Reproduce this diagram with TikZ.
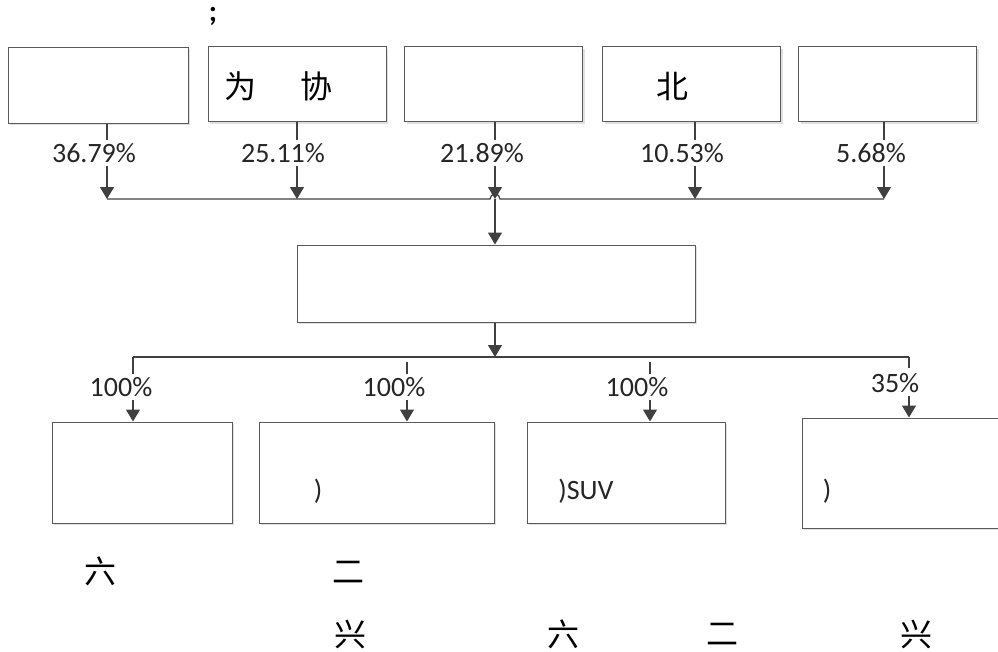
\documentclass[tikz,border=0pt]{standalone}
\usepackage{fontspec}
\setmainfont{Carlito}
\newfontfamily\cjk{Noto Sans CJK SC}
\usetikzlibrary{arrows.meta,shadows}
\definecolor{linegray}{HTML}{404040}
\definecolor{boxgray}{HTML}{5A5A5A}
\tikzset{
	firm/.style={draw=boxgray, line width=1pt, fill=white, inner sep=0pt,
		drop shadow={shadow xshift=2pt, shadow yshift=-2pt, fill=black!12, opacity=1}},
	share/.style={font=\fontsize{28}{30}\selectfont, inner xsep=0pt, inner ysep=3pt, text=black!85},
	hanzi/.style={font=\cjk\fontsize{32}{34}\selectfont, inner sep=0pt},
	tie/.style={draw=linegray, line width=1.2pt},
	stake/.style={tie, -{Triangle[length=12pt,width=14pt]}}
}
\begin{document}
\begin{tikzpicture}[x=1pt,y=-1pt]
		\useasboundingbox (0,0) rectangle (998,651);
		\node[font=\bfseries\fontsize{30}{32}\selectfont, inner sep=0pt] (semi) at (213,16) {;};
		% owners
		\node[firm, minimum width=180, minimum height=76] (t1) at (98,85) {};
		\node[firm, minimum width=178, minimum height=75] (t2) at (297,84) {};
		\node[firm, minimum width=178, minimum height=75] (t3) at (493.5,84) {};
		\node[firm, minimum width=178, minimum height=75] (t4) at (691.5,84) {};
		\node[firm, minimum width=178, minimum height=75] (t5) at (887.5,84) {};
		\node[hanzi] (n2) at (278.5,86) {为\hspace{45pt}协};
		\node[hanzi] (n4) at (672,86) {北};
		% shares
		\node[share] (p1) at (94,153) {36.79\%};
		\node[share] (p2) at (283,153) {25.11\%};
		\node[share] (p3) at (482,153) {21.89\%};
		\node[share] (p4) at (682,153) {10.53\%};
		\node[share] (p5) at (871,153) {5.68\%};
		% upper bus
		\coordinate (j1) at (107,199);
		\coordinate (j2) at (297,199);
		\coordinate (j3) at (495,199);
		\coordinate (j4) at (695,199);
		\coordinate (j5) at (884,199);
		\coordinate (h1) at (490,199);
		\draw[tie] (j1) -- (h1) arc[start angle=180, end angle=0, radius=5pt] -- (j5);
		\foreach \i in {1,...,5}{
			\draw[tie] (t\i.south -| j\i) -- (p\i.north -| j\i);
			\draw[stake] (p\i.south -| j\i) -- (j\i);
		}
		% company
		\node[firm, minimum width=398, minimum height=77] (m) at (496,283.5) {};
		\draw[stake] (j3) -- (m.north -| j3);
		% lower bus
		\coordinate (k0) at (495,357);
		\coordinate (k1) at (133,357);
		\coordinate (k2) at (407,357);
		\coordinate (k3) at (650,357);
		\coordinate (k4) at (909,357);
		\coordinate (g2) at (407,362);
		\coordinate (g3) at (650,362);
		\coordinate (g4) at (909,368);
		\draw[stake] (m.south -| k0) -- (k0);
		\draw[tie] (k1) -- (k4);
		% subsidiaries
		\node[firm, minimum width=180, minimum height=101] (b1) at (142,472.5) {};
		\node[firm, minimum width=235, minimum height=101] (b2) at (376.5,472.5) {};
		\node[firm, minimum width=198, minimum height=101] (b3) at (626,472.5) {};
		\node[firm, minimum width=214, minimum height=110] (b4) at (909,473) {};
		\node[share] (q1) at (121,387) {100\%};
		\node[share] (q2) at (394,387) {100\%};
		\node[share] (q3) at (637,387) {100\%};
		\node[share] (q4) at (895,383) {35\%};
		\draw[tie] (k1) -- (q1.north -| k1);
		\draw[tie] (g2) -- (q2.north -| g2);
		\draw[tie] (g3) -- (q3.north -| g3);
		\draw[tie] (k4) -- (g4);
		\draw[stake] (q1.south -| k1) -- (b1.north -| k1);
		\draw[stake] (q2.south -| k2) -- (b2.north -| k2);
		\draw[stake] (q3.south -| k3) -- (b3.north -| k3);
		\draw[stake] (q4.south -| k4) -- (b4.north -| k4);
		\node[share] (r2) at (318,491) {)};
		\node[share] (r3) at (586,491) {)SUV};
		\node[share] (r4) at (827,491) {)};
		% below
		\node[hanzi] (w1) at (100,571) {六};
		\node[hanzi] (w2) at (348,572) {二};
		\node[hanzi] (w3) at (350,634) {兴};
		\node[hanzi] (w4) at (563,634) {六};
		\node[hanzi] (w5) at (722,634) {二};
		\node[hanzi] (w6) at (916,634) {兴};
	\end{tikzpicture}
\end{document}
